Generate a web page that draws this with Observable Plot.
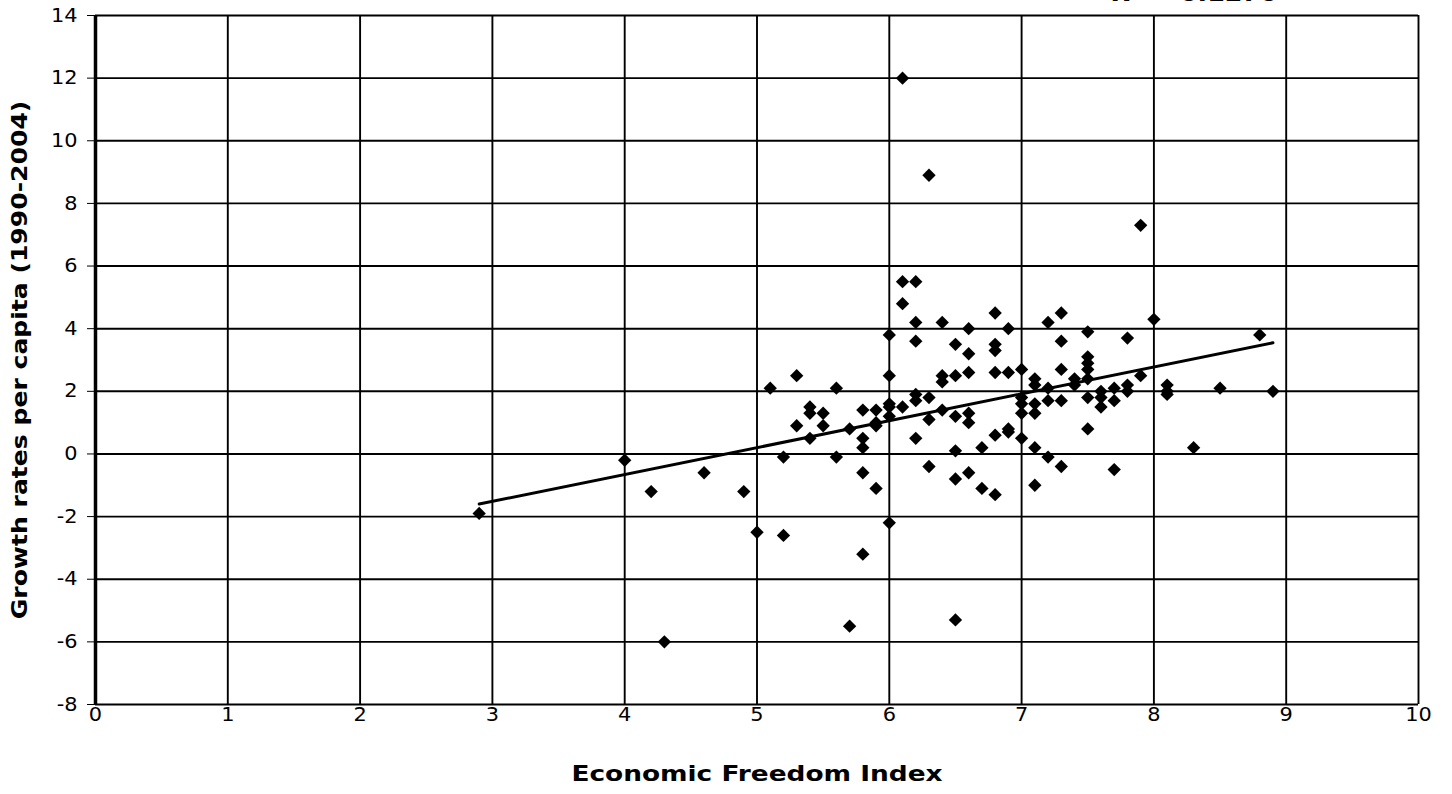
<!DOCTYPE html>
<html>
<head>
<meta charset="utf-8">
<script src="https://cdn.jsdelivr.net/npm/d3@7"></script>
<script src="https://cdn.jsdelivr.net/npm/@observablehq/plot@0.6"></script>
<style>
  html, body { margin: 0; padding: 0; background: #fff; }
  #chart svg { display: block; }
</style>
</head>
<body>
<div id="chart"></div>
<script>
// Economic Freedom Index (x) and growth rate per capita 1990-2004 (y)
const efi = [
  2.9, 4.0, 4.2, 4.3, 4.6, 4.9, 5.0, 5.1, 5.2, 5.2,
  5.3, 5.3, 5.4, 5.4, 5.4, 5.5, 5.5, 5.6, 5.6, 5.7,
  5.7, 5.8, 5.8, 5.8, 5.8, 5.8, 5.9, 5.9, 5.9, 5.9,
  6.0, 6.0, 6.0, 6.0, 6.0, 6.0, 6.1, 6.1, 6.1, 6.1,
  6.2, 6.2, 6.2, 6.2, 6.2, 6.2, 6.3, 6.3, 6.3, 6.3,
  6.4, 6.4, 6.4, 6.4, 6.5, 6.5, 6.5, 6.5, 6.5, 6.5,
  6.6, 6.6, 6.6, 6.6, 6.6, 6.6, 6.7, 6.7, 6.8, 6.8,
  6.8, 6.8, 6.8, 6.8, 6.9, 6.9, 6.9, 6.9, 7.0, 7.0,
  7.0, 7.0, 7.0, 7.1, 7.1, 7.1, 7.1, 7.1, 7.1, 7.2,
  7.2, 7.2, 7.2, 7.3, 7.3, 7.3, 7.3, 7.3, 7.4, 7.4,
  7.5, 7.5, 7.5, 7.5, 7.5, 7.5, 7.5, 7.6, 7.6, 7.6,
  7.7, 7.7, 7.7, 7.8, 7.8, 7.8, 7.9, 7.9, 8.0, 8.1,
  8.1, 8.1, 8.3, 8.5, 8.8, 8.9
];
const growth = [
  -1.9, -0.2, -1.2, -6.0, -0.6, -1.2, -2.5, 2.1, -0.1, -2.6,
   2.5, 0.9, 1.5, 1.3, 0.5, 1.3, 0.9, 2.1, -0.1, 0.8,
  -5.5, 1.4, 0.5, 0.2, -0.6, -3.2, 1.4, 1.0, 0.9, -1.1,
   3.8, 2.5, 1.6, 1.5, 1.2, -2.2, 12.0, 5.5, 4.8, 1.5,
   5.5, 4.2, 3.6, 1.9, 1.7, 0.5, 8.9, 1.8, 1.1, -0.4,
   4.2, 2.5, 2.3, 1.4, 3.5, 2.5, 1.2, 0.1, -0.8, -5.3,
   4.0, 3.2, 2.6, 1.3, 1.0, -0.6, 0.2, -1.1, 4.5, 3.5,
   3.3, 2.6, 0.6, -1.3, 4.0, 2.6, 0.8, 0.7, 2.7, 1.8,
   1.6, 1.3, 0.5, 2.4, 2.2, 1.6, 1.3, 0.2, -1.0, 4.2,
   2.1, 1.7, -0.1, 4.5, 3.6, 2.7, 1.7, -0.4, 2.4, 2.2,
   3.9, 3.1, 2.9, 2.7, 2.4, 1.8, 0.8, 2.0, 1.8, 1.5,
   2.1, 1.7, -0.5, 3.7, 2.2, 2.0, 7.3, 2.5, 4.3, 2.2,
   2.0, 1.9, 0.2, 2.1, 3.8, 2.0
];
// Linear trend line as drawn in the original (end points)
const trendX = [2.9, 8.9];
const trendY = [-1.6, 3.55];

const xTicks = [0, 1, 2, 3, 4, 5, 6, 7, 8, 9, 10];
const yTicks = [-8, -6, -4, -2, 0, 2, 4, 6, 8, 10, 12, 14];

const xTitle = "Economic Freedom Index";
const yTitle = "Growth rates per capita (1990-2004)";

const points = efi.map((x, i) => ({x, y: growth[i]}));
const trend = trendX.map((x, i) => ({x, y: trendY[i]}));

// R squared from the points
const mx = d3.mean(efi), my = d3.mean(growth);
const sxy = d3.sum(points, d => (d.x - mx) * (d.y - my));
const sxx = d3.sum(points, d => (d.x - mx) ** 2);
const syy = d3.sum(points, d => (d.y - my) ** 2);
const r2 = (sxy * sxy) / (sxx * syy);
const r2Label = "R\u00B2 = " + r2.toFixed(4);

const chart = Plot.plot({
  width: 1452,
  height: 794,
  marginLeft: 95,
  marginRight: 34,
  marginTop: 15,
  marginBottom: 90,
  style: {fontFamily: "'DejaVu Sans', Verdana, sans-serif", fontSize: "18px", color: "#000", background: "#fff"},
  x: {domain: [0, 10], ticks: xTicks},
  y: {domain: [-8, 14], ticks: yTicks},
  marks: [
    Plot.gridX(xTicks, {stroke: "#000", strokeOpacity: 1, strokeWidth: 1.9}),
    Plot.gridY(yTicks, {stroke: "#000", strokeOpacity: 1, strokeWidth: 1.9}),
    Plot.ruleX([0], {stroke: "#000", strokeWidth: 3.5}),
    Plot.axisY(yTicks, {tickSize: 8, tickPadding: 10, label: null, fontSize: 19, tickFormat: d => String(d)}),
    Plot.axisX(xTicks, {tickSize: 0, tickPadding: 3, label: null, fontSize: 19, tickFormat: d => String(d)}),
    Plot.line(trend, {x: "x", y: "y", stroke: "#000", strokeWidth: 3}),
    Plot.dot(points, {x: "x", y: "y", symbol: "diamond2", r: 6, fill: "#000", stroke: "none"}),
    Plot.text([xTitle], {frameAnchor: "bottom", dy: 76, fontWeight: "bold", fontSize: 22, fill: "#000"}),
    Plot.text([yTitle], {frameAnchor: "left", dx: -76, rotate: -90, textAnchor: "middle", fontWeight: "bold", fontSize: 22, fill: "#000"}),
    Plot.text([r2Label], {frameAnchor: "top-right", dx: -141, dy: -15, textAnchor: "end", lineAnchor: "bottom", fontWeight: "bold", fontSize: 22, fill: "#000"})
  ]
});
const svg = d3.select(chart);
// widen glyphs horizontally (along the text direction) to match the original's wide Verdana-like face
function widen(sel, k) {
  sel.each(function() {
    const t = this.getAttribute("transform") || "";
    this.setAttribute("transform", (t + ` scale(${k},1)`).trim());
  });
}
widen(svg.selectAll("text").filter(function() { return this.textContent === xTitle; }), 1.2);
widen(svg.selectAll("text").filter(function() { return this.textContent === yTitle; }), 1.14);
widen(svg.selectAll("text").filter(function() { return this.textContent === r2Label; }), 1.15);
widen(svg.selectAll("g[aria-label='y-axis tick label'] text, g[aria-label='x-axis tick label'] text"), 1.1);
document.getElementById("chart").appendChild(chart);
</script>
</body>
</html>
